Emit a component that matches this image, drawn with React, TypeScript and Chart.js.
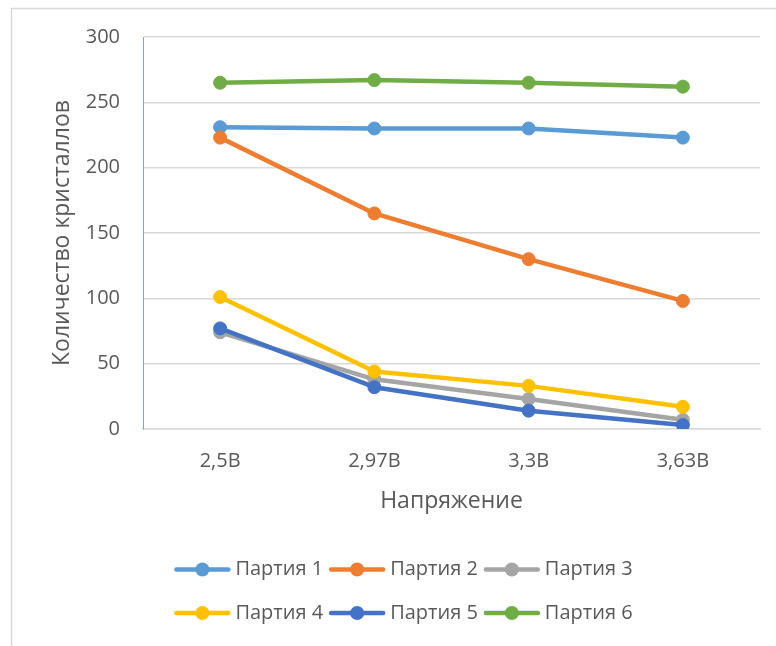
import React, { useEffect, useRef } from "react";
import { Chart, registerables } from "chart.js";

Chart.register(...registerables);

const categories = ["2,5В", "2,97В", "3,3В", "3,63В"];
const seriesNames = ["Партия 1", "Партия 2", "Партия 3", "Партия 4", "Партия 5", "Партия 6"];
const party1 = [231, 230, 230, 223];
const party2 = [223, 165, 130, 98];
const party3 = [74, 38, 23, 7];
const party4 = [101, 44, 33, 17];
const party5 = [77, 32, 14, 3];
const party6 = [265, 267, 265, 262];
const seriesValues = [party1, party2, party3, party4, party5, party6];
const seriesColors = ["#5B9BD5", "#ED7D31", "#A5A5A5", "#FFC000", "#4472C4", "#70AD47"];
const yMin = 0;
const yMax = 300;
const yStep = 50;
const yTitle = "Количество кристаллов";
const xTitle = "Напряжение";

const FONT = "'Open Sans', sans-serif";
const TEXT = "#595959";
const W = 776;
const H = 646;

const frameAndLegend = {
  id: "frameAndLegend",
  beforeDraw(chart: any) {
    const ctx = chart.ctx;
    ctx.save();
    ctx.fillStyle = "#ffffff";
    ctx.fillRect(0, 0, chart.width, chart.height);
    ctx.strokeStyle = "#d9d9d9";
    ctx.lineWidth = 1.5;
    ctx.strokeRect(11.5, 8.5, 900, 900);
    ctx.restore();
  },
  afterDraw(chart: any) {
    const ctx = chart.ctx;
    ctx.save();
    ctx.font = `20px ${FONT}`;
    const lineLen = 56;
    const gap = 5;
    const spacing = 6;
    const cols = 3;
    const dsets = chart.data.datasets;
    const widths = dsets.map((d: any) => lineLen + gap + ctx.measureText(d.label).width);
    const colW = Math.max(...widths) + spacing;
    const rowW = cols * colW - spacing;
    const startX = 403.5 - rowW / 2;
    const rowYs = [569.5, 613];
    dsets.forEach((ds: any, i: number) => {
      const col = i % cols;
      const row = Math.floor(i / cols);
      const x = startX + col * colW;
      const y = rowYs[row];
      ctx.strokeStyle = ds.borderColor;
      ctx.lineWidth = 4.5;
      ctx.lineCap = "round";
      ctx.beginPath();
      ctx.moveTo(x + 2, y);
      ctx.lineTo(x + lineLen - 2, y);
      ctx.stroke();
      ctx.fillStyle = ds.borderColor;
      ctx.beginPath();
      ctx.arc(x + lineLen / 2, y, 7, 0, Math.PI * 2);
      ctx.fill();
      ctx.fillStyle = TEXT;
      ctx.textBaseline = "middle";
      ctx.textAlign = "left";
      ctx.fillText(ds.label, x + lineLen + gap, y);
    });
    ctx.restore();
  },
};

export default function App() {
  const ref = useRef<HTMLCanvasElement | null>(null);
  useEffect(() => {
    if (!ref.current) return;
    const n = seriesNames.length;
    const chart = new Chart(ref.current, {
      type: "line",
      data: {
        labels: categories,
        datasets: seriesNames.map((name, i) => ({
          label: name,
          data: seriesValues[i],
          borderColor: seriesColors[i],
          backgroundColor: seriesColors[i],
          pointBackgroundColor: seriesColors[i],
          pointBorderColor: seriesColors[i],
          borderWidth: 4.5,
          pointRadius: 6.5,
          pointBorderWidth: 1,
          borderJoinStyle: "round" as const,
          borderCapStyle: "round" as const,
          tension: 0,
          fill: false,
          order: n - 1 - i,
        })),
      },
      options: {
        responsive: false,
        animation: false,
        layout: { padding: { left: 49, right: 16, top: 37, bottom: 131 } },
        plugins: {
          legend: { display: false },
          tooltip: { enabled: false },
        },
        scales: {
          x: {
            offset: true,
            grid: { display: false, drawTicks: false },
            border: { display: true, color: "#d9d9d9", width: 1.5 },
            ticks: {
              color: TEXT,
              font: { family: FONT, size: 20 },
              padding: 20,
              maxRotation: 0,
              autoSkip: false,
            },
            title: {
              display: true,
              text: xTitle,
              color: TEXT,
              font: { family: FONT, size: 23 },
              padding: { top: 0, bottom: 0 },
            },
            afterFit: (s: any) => {
              s.height = 86;
            },
          },
          y: {
            min: yMin,
            max: yMax,
            grid: { color: "#d9d9d9", lineWidth: 1.5, drawTicks: false },
            border: { display: true, color: "#7FA6DA", width: 1 },
            ticks: {
              stepSize: yStep,
              color: TEXT,
              font: { family: FONT, size: 20 },
              padding: 23,
            },
            title: {
              display: true,
              text: yTitle,
              color: TEXT,
              font: { family: FONT, size: 23 },
              padding: { top: 0, bottom: 0 },
            },
            afterFit: (s: any) => {
              s.width = 94;
            },
          },
        },
      },
      plugins: [frameAndLegend],
    });
    return () => chart.destroy();
  }, []);
  return (
    <div style={{ position: "fixed", left: 0, top: 0, width: W, height: H, background: "#fff" }}>
      <canvas ref={ref} width={W} height={H} style={{ display: "block" }} />
    </div>
  );
}
